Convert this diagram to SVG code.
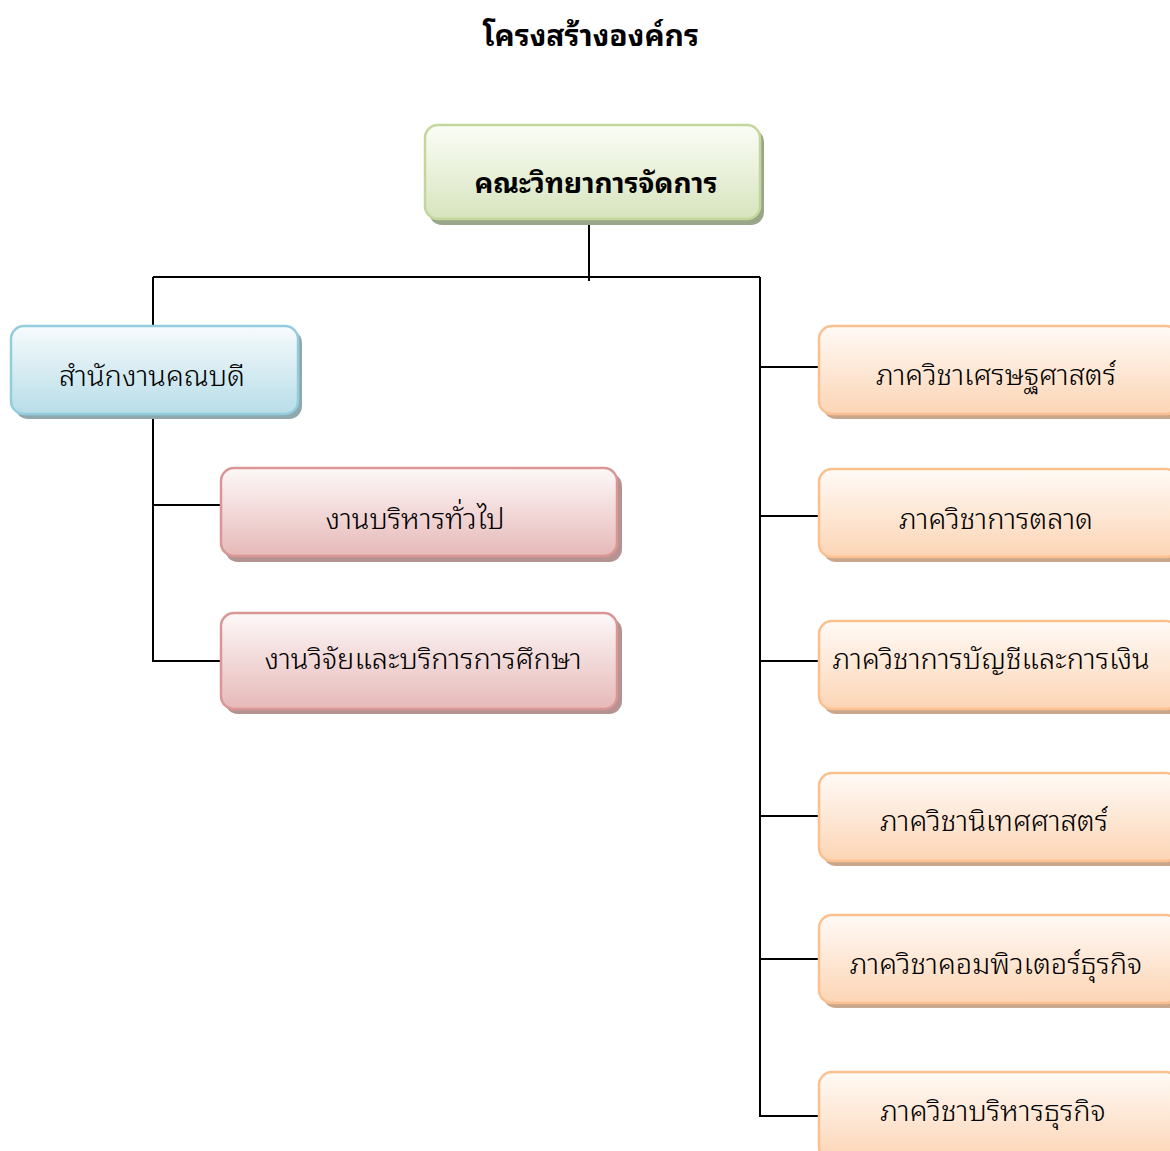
<svg xmlns="http://www.w3.org/2000/svg" width="1170" height="1151" viewBox="0 0 1170 1151">
<defs>
<linearGradient id="gGreen" x1="0" y1="0" x2="0" y2="1"><stop offset="0" stop-color="#fbfdf7"/><stop offset="1" stop-color="#d7e4bd"/></linearGradient>
<linearGradient id="gBlue" x1="0" y1="0" x2="0" y2="1"><stop offset="0" stop-color="#f7fbfd"/><stop offset="1" stop-color="#b7dde8"/></linearGradient>
<linearGradient id="gPink" x1="0" y1="0" x2="0" y2="1"><stop offset="0" stop-color="#fdf8f8"/><stop offset="1" stop-color="#e6b9b8"/></linearGradient>
<linearGradient id="gOrange" x1="0" y1="0" x2="0" y2="1"><stop offset="0" stop-color="#fffaf6"/><stop offset="1" stop-color="#fcd5b5"/></linearGradient>
</defs>
<style>
text{font-family:"Noto Sans Thai Looped","Noto Sans Thai","Noto Sans","DejaVu Sans",sans-serif;fill:#000;text-anchor:middle;}
.lbl{font-size:29px;font-weight:300;}
.bold{font-weight:bold;}
.conn{stroke:#000;stroke-width:2;fill:none;}
.green{fill:url(#gGreen);stroke:#c3d69b;stroke-width:2.5;}
.blue{fill:url(#gBlue);stroke:#93cddd;stroke-width:2.5;}
.pink{fill:url(#gPink);stroke:#d99694;stroke-width:2.5;}
.orange{fill:url(#gOrange);stroke:#fac090;stroke-width:2.5;}
.shG{fill:#9aa68a;}
.shB{fill:#8fa8b0;}
.shP{fill:#b49392;}
.shO{fill:#c8a78c;}
</style>
<text x="591" y="46" class="bold" style="font-size:30px">โครงสร้างองค์กร</text>
<g id="connectors">
<path class="conn" d="M589,222 V281 M153,277 H760 M153,277 V326 M760,277 V1116 H819"/>
<path class="conn" d="M153,414 V661 H221 M153,505 H221"/>
<path class="conn" d="M760,367 H819 M760,516 H819 M760,661 H819 M760,816 H819 M760,959 H819"/>
</g>
<g id="n_faculty">
<rect class="shG" x="429" y="129" width="335" height="96" rx="13"/>
<rect class="green" x="425" y="125" width="335" height="94" rx="13"/>
<text class="lbl bold" x="596" y="193" style="font-size:28px">คณะวิทยาการจัดการ</text>
</g>
<g id="n_dean">
<rect class="shB" x="15" y="330" width="287" height="89" rx="13"/>
<rect class="blue" x="11" y="326" width="287" height="88" rx="13"/>
<text class="lbl" x="152" y="386">สำนักงานคณบดี</text>
</g>
<g id="n_admin">
<rect class="shP" x="225" y="473" width="397" height="89" rx="13"/>
<rect class="pink" x="221" y="468" width="396" height="88" rx="13"/>
<text class="lbl" x="415" y="529">งานบริหารทั่วไป</text>
</g>
<g id="n_research">
<rect class="shP" x="225" y="618" width="397" height="96" rx="13"/>
<rect class="pink" x="221" y="613" width="396" height="96" rx="13"/>
<text class="lbl" x="423" y="669">งานวิจัยและบริการการศึกษา</text>
</g>
<g id="n_econ">
<rect class="shO" x="823" y="331" width="360" height="88" rx="13"/>
<rect class="orange" x="819" y="326" width="360" height="88" rx="13"/>
<text class="lbl" x="996" y="385">ภาควิชาเศรษฐศาสตร์</text>
</g>
<g id="n_mkt">
<rect class="shO" x="823" y="474" width="360" height="88" rx="13"/>
<rect class="orange" x="819" y="469" width="360" height="88" rx="13"/>
<text class="lbl" x="996" y="529">ภาควิชาการตลาด</text>
</g>
<g id="n_acc">
<rect class="shO" x="823" y="626" width="360" height="88" rx="13"/>
<rect class="orange" x="819" y="621" width="360" height="88" rx="13"/>
<text class="lbl" x="991" y="669">ภาควิชาการบัญชีและการเงิน</text>
</g>
<g id="n_comm">
<rect class="shO" x="823" y="778" width="360" height="88" rx="13"/>
<rect class="orange" x="819" y="773" width="360" height="88" rx="13"/>
<text class="lbl" x="994" y="831">ภาควิชานิเทศศาสตร์</text>
</g>
<g id="n_bcom">
<rect class="shO" x="823" y="920" width="360" height="88" rx="13"/>
<rect class="orange" x="819" y="915" width="360" height="88" rx="13"/>
<text class="lbl" x="996" y="974">ภาควิชาคอมพิวเตอร์ธุรกิจ</text>
</g>
<g id="n_bus">
<rect class="shO" x="823" y="1077" width="360" height="88" rx="13"/>
<rect class="orange" x="819" y="1072" width="360" height="88" rx="13"/>
<text class="lbl" x="993" y="1121">ภาควิชาบริหารธุรกิจ</text>
</g>
</svg>
